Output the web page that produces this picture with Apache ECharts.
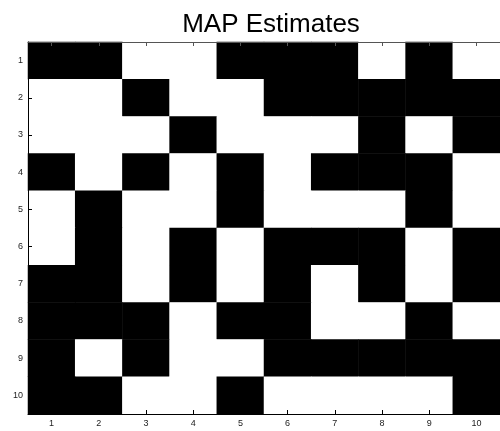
<!DOCTYPE html>
<html>
<head>
<meta charset="utf-8">
<script src="https://cdn.jsdelivr.net/npm/echarts@6/dist/echarts.min.js"></script>
<style>html,body{margin:0;padding:0;background:#fff}#c{width:500px;height:431px}</style>
</head>
<body>
<div id="c"></div>
<script>
const xLabels = ['1','2','3','4','5','6','7','8','9','10'];
const yLabels = ['1','2','3','4','5','6','7','8','9','10'];
const row1  = [1,1,0,0,1,1,1,0,1,0];
const row2  = [0,0,1,0,0,1,1,1,1,1];
const row3  = [0,0,0,1,0,0,0,1,0,1];
const row4  = [1,0,1,0,1,0,1,1,1,0];
const row5  = [0,1,0,0,1,0,0,0,1,0];
const row6  = [0,1,0,1,0,1,1,1,0,1];
const row7  = [1,1,0,1,0,1,0,1,0,1];
const row8  = [1,1,1,0,1,1,0,0,1,0];
const row9  = [1,0,1,0,0,1,1,1,1,1];
const row10 = [1,1,0,0,1,0,0,0,0,1];
const rows = [row1,row2,row3,row4,row5,row6,row7,row8,row9,row10];

const data = [];
rows.forEach((r, yi) => r.forEach((v, xi) => data.push([xi, yi, v])));

const chart = echarts.init(document.getElementById('c'), null, {renderer:'canvas'});
const font = 'Liberation Sans, Arial, sans-serif';
chart.setOption({
  animation: false,
  title: {
    text: 'MAP Estimates', left: 266, top: 7, textAlign: 'center',
    textStyle: {fontFamily: font, fontSize: 26, fontWeight: 'normal', color: '#000'}
  },
  grid: {left: 28, top: 42, width: 477, height: 372, show: false},
  xAxis: [{
    type: 'category', data: xLabels, position: 'bottom', z: 10,
    axisLine: {show: true, lineStyle: {color: '#000'}},
    axisTick: {show: true, inside: true, alignWithLabel: true, length: 4, lineStyle: {color: '#000'}},
    axisLabel: {fontFamily: font, fontSize: 9, color: '#222', margin: 5},
    splitLine: {show: false}
  }, {
    type: 'category', data: xLabels, position: 'top', z: 10,
    axisLine: {show: true, lineStyle: {color: '#555'}},
    axisTick: {show: true, inside: true, alignWithLabel: true, length: 4, lineStyle: {color: '#555'}},
    axisLabel: {show: false},
    splitLine: {show: false}
  }],
  yAxis: {
    type: 'category', data: yLabels, inverse: true, z: 10,
    axisLine: {show: true, lineStyle: {color: '#000'}},
    axisTick: {show: true, inside: true, alignWithLabel: true, length: 4, lineStyle: {color: '#000'}},
    axisLabel: {fontFamily: font, fontSize: 9, color: '#222', margin: 5},
    splitLine: {show: false}
  },
  visualMap: {show: false, min: 0, max: 1, dimension: 2, inRange: {color: ['#ffffff', '#000000']}},
  series: [{
    type: 'heatmap', data: data, xAxisIndex: 0, yAxisIndex: 0, z: 2,
    itemStyle: {borderWidth: 0}, emphasis: {disabled: true}
  }]
});
</script>
</body>
</html>
